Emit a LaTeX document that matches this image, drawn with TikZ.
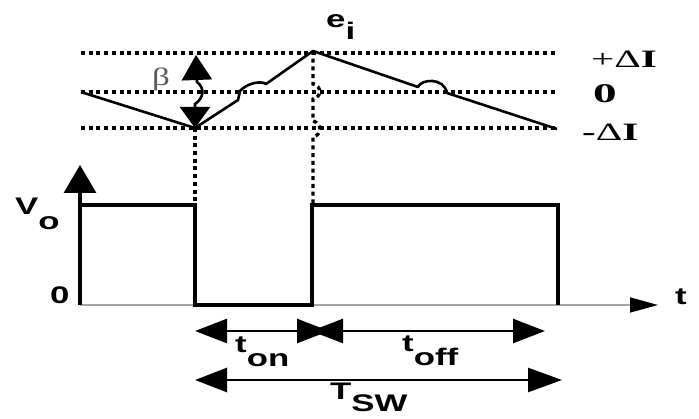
\documentclass[tikz,border=0pt]{standalone}
\usepackage{amsmath}
\usepackage{graphicx}
\usepackage{fontspec}
\setmainfont{Liberation Serif}
\setsansfont{Liberation Sans}
\usetikzlibrary{arrows.meta}
\newcommand{\wtext}[2][1.45]{\scalebox{#1}[1]{#2}}

\begin{document}
\begin{tikzpicture}[x=1pt,y=-1pt,
  sig/.style={line width=3.3pt},
  ramp/.style={line width=2.6pt,line join=round},
  grid/.style={line width=3.3pt,dash pattern=on 4pt off 3.7pt},
  dim/.style={line width=2.7pt,{Triangle[length=32pt,width=24pt]}-{Triangle[length=32pt,width=24pt]}},
  lbl/.style={font=\sffamily\bfseries\fontsize{24}{24}\selectfont,inner sep=0pt,anchor=base west},
  lvl/.style={font=\fontsize{25}{25}\selectfont,inner sep=0pt,anchor=base west}]
\useasboundingbox (0,0) rectangle (699,419);

\coordinate (st) at (81,92);
\coordinate (lo) at (195,128);
\coordinate (pk) at (313,51);
\coordinate (en) at (557,129);

% levels
\draw[grid] (81,53) -- (557,53);
\draw[grid] (81,92) -- (557,92);
\draw[grid] (81,128) -- (557,128);
\node[lvl] (pI) at (591,68) {\wtext[1.65]{+Δ\textbf{I}}};
\node[lvl,font=\bfseries\fontsize{27}{27}\selectfont] (zI) at (593,103) {\wtext[1.75]{0}};
\node[lvl] (mI) at (582,141) {\wtext[1.65]{\textbf{-}Δ\textbf{I}}};

% current ripple
\draw[ramp] (st) -- (lo) -- (238,100) -- (240,91) .. controls (246,84) and (260,80) .. (266,84) -- (pk)
  -- (418,87) .. controls (421,79) and (444,77) .. (447,93) -- (en);
\node[lbl] (ei) at (326,28) {\wtext{e\raisebox{-12pt}{i}}};

\draw[line width=2.6pt,{Triangle[length=21pt,width=30pt]}-{Triangle[length=25pt,width=30pt]}]
  (lo) -- (195,104) .. controls (204,98) and (205,88) .. (197,82) -- (196,55);
\node[font=\fontsize{25}{25}\selectfont,text=black!65,inner sep=0pt] (beta) at (161,79) {\wtext[1.4]{β}};

% switching instants
\draw[grid] (lo) -- (195,205);
\draw[grid] (pk) -- (313,84) .. controls (322,86) and (322,97) .. (313,99) -- (313,121)
  .. controls (322,123) and (322,135) .. (313,137) -- (313,205);

% output voltage
\draw[line width=1.5pt,black!35,-{Triangle[length=28pt,width=15pt,color=black]}] (80,305) -- (658,305);
\draw[sig,-{Triangle[length=28pt,width=32pt]}] (80,305) -- (80,165);
\draw[sig] (80,205) -- (195,205) -- (195,305) -- (312,305) -- (312,205) -- (558,205) -- (558,305);
\node[lbl] (vo) at (15,215) {\wtext{V\raisebox{-15pt}{o}}};
\node[lbl] (v0) at (50,304) {\wtext{0}};
\node[lbl] (tx) at (675,305) {\wtext{t}};

% intervals
\draw[dim] (195,331) -- (329,331);
\draw[dim] (311,331) -- (545,331);
\draw[line width=2.7pt,{Triangle[length=32pt,width=24pt]}-{Triangle[length=34pt,width=24pt]}] (195,380) -- (562,380);
\node[lbl] (ton) at (235,353) {\wtext{t\raisebox{-14pt}{on}}};
\node[lbl] (toff) at (402,352) {\wtext{t\raisebox{-14pt}{off}}};
\node[lbl] (tsw) at (330,400) {\wtext{T\raisebox{-12pt}{SW}}};

\end{tikzpicture}
\end{document}
